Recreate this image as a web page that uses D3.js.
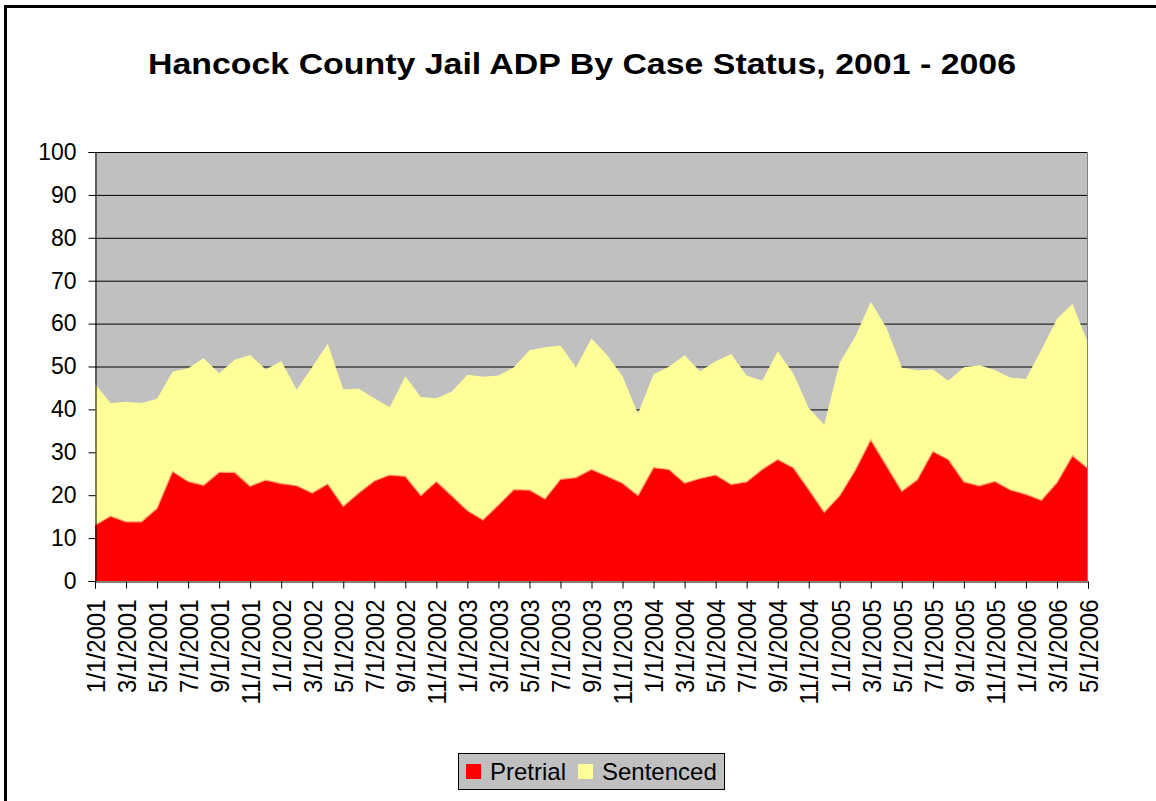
<!DOCTYPE html>
<html>
<head>
<meta charset="utf-8">
<script src="https://cdn.jsdelivr.net/npm/d3@7"></script>
<style>
  body { margin: 0; background: #fff; }
  text { font-family: "Liberation Sans", Arial, sans-serif; }
</style>
</head>
<body>
<svg width="1156" height="801"></svg>
<script>
// months 1/1/2001 .. 5/1/2006
var months = [];
for (var yr = 2001; yr <= 2006; yr++) {
  for (var m = 1; m <= 12; m++) {
    if (yr == 2006 && m > 5) break;
    months.push(m + "/1/" + yr);
  }
}

var pretrial = [13.0, 15.1, 13.8, 13.8, 16.9, 25.5, 23.2, 22.3, 25.3, 25.3, 22.1, 23.5,
  22.7, 22.2, 20.5, 22.6, 17.4, 20.5, 23.3, 24.7, 24.4, 19.9, 23.2, 19.8,
  16.4, 14.2, 17.7, 21.3, 21.2, 19.1, 23.7, 24.1, 26.0, 24.4, 22.8, 19.9,
  26.4, 26.0, 22.8, 23.9, 24.7, 22.5, 23.1, 26.0, 28.3, 26.4, 21.3, 16.0,
  19.9, 25.8, 32.9, 26.9, 20.9, 23.6, 30.2, 28.3, 23.1, 22.2, 23.2, 21.2,
  20.2, 18.8, 22.9, 29.2, 26.2];

var sentenced = [32.9, 26.4, 28.0, 27.7, 25.6, 23.3, 26.4, 29.6, 23.1, 26.3, 30.6, 25.8,
  28.6, 22.4, 29.4, 32.7, 27.3, 24.3, 19.3, 15.8, 23.3, 23.0, 19.4, 24.4,
  31.7, 33.4, 30.2, 28.5, 32.6, 35.4, 31.2, 25.7, 30.5, 28.3, 24.9, 19.1,
  21.8, 24.0, 29.8, 25.0, 26.5, 30.4, 24.8, 20.7, 25.2, 22.0, 19.0, 20.4,
  31.0, 31.2, 32.2, 32.2, 28.8, 25.5, 19.1, 18.4, 26.7, 28.1, 26.0, 26.2,
  26.9, 35.1, 38.2, 35.4, 29.2];

var yTicks = [0, 10, 20, 30, 40, 50, 60, 70, 80, 90, 100];
var seriesNames = ["Pretrial", "Sentenced"];
var seriesColors = ["#ff0000", "#ffff99"];

var svg = d3.select("svg");
var plotLeft = 95, plotRight = 1088, plotTop = 152, plotBottom = 581;

// outer frame (cut off at right and bottom like the picture)
svg.append("rect")
  .attr("x", 5.5).attr("y", 6.5)
  .attr("width", 1200).attr("height", 900)
  .attr("fill", "none").attr("stroke", "#000").attr("stroke-width", 3);

svg.append("text")
  .attr("x", 148).attr("y", 74)
  .attr("font-size", "30px").attr("font-weight", "bold")
  .attr("textLength", 868).attr("lengthAdjust", "spacingAndGlyphs")
  .text("Hancock County Jail ADP By Case Status, 2001 - 2006");

var xScale = d3.scalePoint().domain(months).range([plotLeft, plotRight]);
var yScale = d3.scaleLinear().domain([0, 100]).range([plotBottom, plotTop]);

var rows = months.map(function (d, i) {
  return { month: d, Pretrial: pretrial[i], Sentenced: sentenced[i] };
});
var stacked = d3.stack().keys(seriesNames)(rows);

svg.append("rect")
  .attr("x", plotLeft).attr("y", plotTop)
  .attr("width", plotRight - plotLeft).attr("height", plotBottom - plotTop)
  .attr("fill", "#c0c0c0");

svg.append("g").selectAll("line")
  .data(yTicks.slice(1))
  .enter().append("line")
  .attr("x1", plotLeft).attr("x2", plotRight)
  .attr("y1", function (d) { return yScale(d) + 0.5; })
  .attr("y2", function (d) { return yScale(d) + 0.5; })
  .attr("stroke", "#000").attr("stroke-width", 1);

var area = d3.area()
  .x(function (d) { return xScale(d.data.month); })
  .y0(function (d) { return yScale(d[0]); })
  .y1(function (d) { return yScale(d[1]); });

svg.append("g").selectAll("path")
  .data(stacked)
  .enter().append("path")
  .attr("d", area)
  .attr("fill", function (d, i) { return seriesColors[i]; });

// thin edge on top of the pretrial area
svg.append("path")
  .datum(stacked[0])
  .attr("d", d3.line()
    .x(function (d) { return xScale(d.data.month); })
    .y(function (d) { return yScale(d[1]); }))
  .attr("fill", "none").attr("stroke", "#ff9966").attr("stroke-width", 1.2);

svg.append("line")
  .attr("x1", plotRight - 0.5).attr("x2", plotRight - 0.5)
  .attr("y1", plotTop).attr("y2", plotBottom)
  .attr("stroke", "#808080");

// y axis
var yAxis = svg.append("g")
  .attr("transform", "translate(" + (plotLeft + 0.5) + ",0)")
  .call(d3.axisLeft(yScale).tickValues(yTicks).tickSize(7).tickPadding(12));
yAxis.select(".domain").attr("stroke", "#000");
yAxis.selectAll("text").attr("font-size", "23px").attr("fill", "#000")
  .style("font-family", "Liberation Sans, Arial, sans-serif");

// x axis
var xAxis = svg.append("g")
  .attr("transform", "translate(0," + (plotBottom + 0.5) + ")")
  .call(d3.axisBottom(xScale)
    .tickValues(months.filter(function (d, i) { return i % 2 == 0; }))
    .tickSize(7));
xAxis.select(".domain").attr("stroke", "#000");
xAxis.selectAll("text")
  .attr("font-size", "24px").attr("fill", "#000")
  .style("font-family", "Liberation Sans, Arial, sans-serif")
  .style("text-anchor", "end")
  .attr("transform", "rotate(-90) scale(1,1.1)")
  .attr("x", -18).attr("y", 0).attr("dy", "0.35em");

// legend
var legend = svg.append("g");
legend.append("rect")
  .attr("x", 458.5).attr("y", 753.5).attr("width", 266).attr("height", 36)
  .attr("fill", "#c0c0c0").attr("stroke", "#000");
var legendX = [466, 578];
seriesNames.forEach(function (name, i) {
  legend.append("rect")
    .attr("x", legendX[i]).attr("y", 764).attr("width", 15).attr("height", 15)
    .attr("fill", seriesColors[i]);
  legend.append("text")
    .attr("x", legendX[i] + 24).attr("y", 780)
    .attr("font-size", "24px")
    .text(name);
});
</script>
</body>
</html>
